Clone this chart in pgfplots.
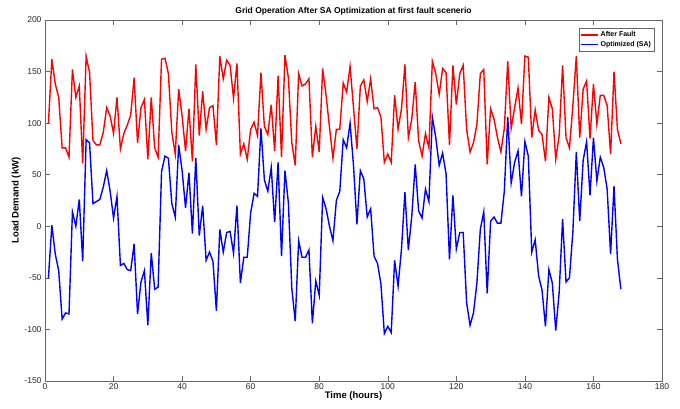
\documentclass[border=0pt]{standalone}
\usepackage{pgfplots}
\pgfplotsset{compat=1.18}
\usepackage{pgfplotstable}
\usepackage{fontspec}
\setmainfont{Liberation Sans}
\pgfplotstableread{
h red blue
1 100 -50
2 162 1
3 138 -27
4 125 -43
5 76 -90
6 76 -84
7 67 -85
8 152 14
9 125 0
10 136 26
11 61 -34
12 165 84
13 149 81
14 83 22
15 79 24
16 79 26
17 91 38
18 115 54
19 107 34
20 90 8
21 125 29
22 75 -38
23 90 -36
24 98 -42
25 108 -43
26 144 -17
27 81 -85
28 115 -54
29 123 -43
30 65 -96
31 125 -26
32 76 -61
33 67 -59
34 162 53
35 163 68
36 148 66
37 91 22
38 70 9
39 133 79
40 107 54
41 73 18
42 114 52
43 63 -7
44 157 66
45 88 -9
46 131 20
47 94 -33
48 115 -25
49 117 -34
50 79 -82
51 165 -3
52 143 -25
53 161 -6
54 156 -5
55 124 -26
56 158 20
57 70 -55
58 80 -30
59 65 -30
60 94 13
61 101 32
62 88 29
63 149 95
64 97 45
65 89 34
66 118 57
67 73 4
68 146 62
69 67 -29
70 166 54
71 144 23
72 81 -60
73 59 -92
74 148 -14
75 136 -30
76 138 -30
77 143 -23
78 67 -94
79 97 -53
80 72 -67
81 153 28
82 127 17
83 96 0
84 66 -14
85 94 25
86 94 34
87 139 84
88 130 76
89 155 100
90 115 59
91 75 2
92 136 54
93 142 46
94 121 9
95 143 17
96 114 -29
97 115 -36
98 106 -56
99 62 -104
100 70 -97
101 62 -103
102 127 -33
103 94 -58
104 114 -22
105 157 33
106 86 -23
107 104 10
108 140 60
109 83 15
110 68 8
111 90 36
112 76 24
113 160 106
114 148 86
115 128 59
116 153 71
117 149 51
118 79 -32
119 156 30
120 118 -22
121 148 -6
122 156 -6
123 94 -74
124 72 -96
125 81 -84
126 99 -55
127 148 -3
128 152 14
129 60 -65
130 114 5
131 104 9
132 86 3
133 72 3
134 95 34
135 160 106
136 95 42
137 115 62
138 134 73
139 99 29
140 165 82
141 164 68
142 86 -25
143 113 -13
144 93 -48
145 89 -62
146 63 -97
147 125 -42
148 114 -55
149 65 -101
150 88 -64
151 156 7
152 86 -54
153 76 -50
154 117 -5
155 165 72
156 86 5
157 133 64
158 141 82
159 85 30
160 138 86
161 99 44
162 127 67
163 127 57
164 117 36
165 70 -27
166 150 39
167 94 -32
168 80 -61
}\datatable
\definecolor{ticktxt}{RGB}{40,40,40}
\begin{document}
\begin{tikzpicture}
\path[use as bounding box] (-45pt,-27pt) rectangle (635pt,381pt);
\begin{axis}[
  at={(0pt,0pt)}, anchor=south west,
  scale only axis,
  width=617pt, height=361pt,
  xmin=0, xmax=180, ymin=-150, ymax=200,
  xtick={0,20,...,180},
  ytick={-150,-100,...,200},
  tick align=inside,
  major tick length=5pt,
  axis line style={draw=black!60, line width=0.6pt},
  every tick/.style={draw=black!60, line width=0.5pt},
  tick label style={font=\fontsize{8.5}{9}\selectfont, text=ticktxt},
  xticklabel style={yshift=1pt},
  /pgf/number format/assume math mode=true,
  xlabel={\bfseries Time (hours)},
  ylabel={\bfseries Load Demand (kW)},
  xlabel style={font=\fontsize{9.5}{10}\selectfont, yshift=5pt},
  ylabel style={font=\fontsize{9.5}{10}\selectfont, yshift=-3pt},
  title={\bfseries Grid Operation After SA Optimization at first fault scenerio},
  title style={font=\fontsize{8.5}{9}\selectfont, yshift=-5pt},
  legend style={at={(0.988,0.978)}, anchor=north east, font=\bfseries\fontsize{7}{8}\selectfont,
    draw=black!60, inner sep=1.5pt, row sep=-1pt},
  legend cell align=left,
  legend image post style={line width=1.2pt},
]
\addplot[color=red, line width=1.4pt] table[x=h, y=red] {\datatable};
\addlegendentry{After Fault}
\addplot[color=blue, line width=1.4pt] table[x=h, y=blue] {\datatable};
\addlegendentry{Optimized (SA)}
\end{axis}
\end{tikzpicture}
\end{document}
